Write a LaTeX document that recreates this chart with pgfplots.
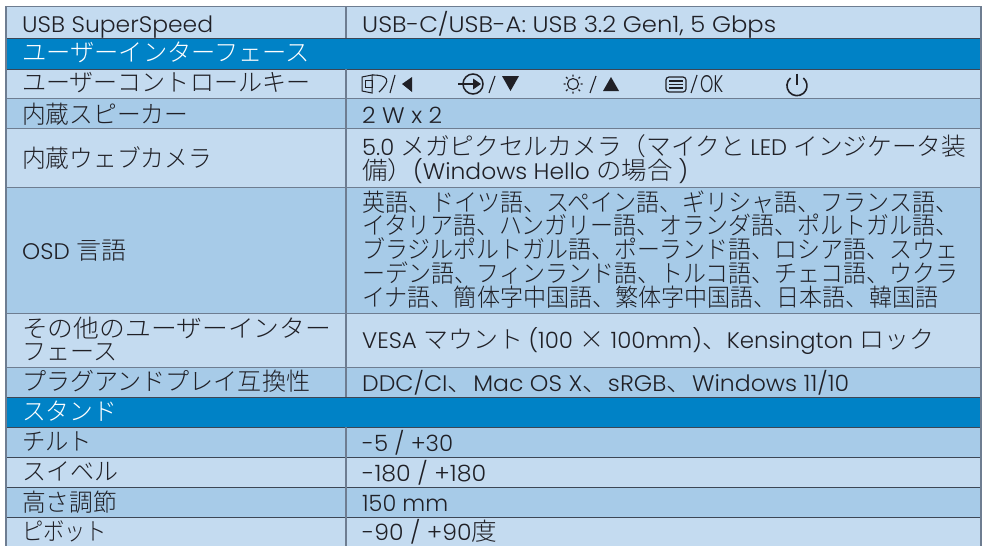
\documentclass[border=0pt]{standalone}
\usepackage{graphicx}
\usepackage{fontspec}
\usepackage{pgfplots}
\pgfplotsset{compat=1.18}
\setmainfont{Poppins Light}
\newfontfamily\jpf{Noto Sans CJK JP Light}
\newfontfamily\ltf{Poppins Light}
\definecolor{lightrow}{RGB}{196,219,240}
\definecolor{darkrow}{RGB}{167,203,232}
\definecolor{headrow}{RGB}{0,130,198}
\definecolor{vline}{RGB}{110,125,145}
\definecolor{hline}{RGB}{60,70,85}
\definecolor{txt}{RGB}{32,32,38}
\newcommand\Ja[1]{{\jpf\fontsize{24.5}{25}\selectfont #1}}
\newcommand\La[1]{{\ltf\fontsize{22.5}{24}\selectfont #1}}
\newsavebox\fitbox
% set text #2 in a box stretched horizontally to #1 pt
\newcommand\F[2]{\sbox\fitbox{#2}\pgfmathsetmacro\fitx{#1/\the\wd\fitbox}\scalebox{\fitx}[1]{\usebox\fitbox}}
\newcommand\T[4]{\node[anchor=base west,inner sep=0pt,text=txt] at (axis cs:#1,#2) {\F{#3}{#4}};}
\newcommand\W[4]{\node[anchor=base west,inner sep=0pt,text=white] at (axis cs:#1,#2) {\F{#3}{#4}};}
\begin{document}
\begin{tikzpicture}[x=1pt,y=1pt]
\path[use as bounding box] (0,0) rectangle (982pt,546pt);
\begin{axis}[at={(0,0)},anchor=south west,width=982pt,height=546pt,scale only axis,
  hide axis,clip=false,xmin=0,xmax=982,ymin=0,ymax=546,y dir=reverse]
% row fills
\addplot[draw=none,fill=lightrow] coordinates {(6,7)(981,7)(981,38)(6,38)};
\addplot[draw=none,fill=headrow] coordinates {(6,38)(981,38)(981,69)(6,69)};
\addplot[draw=none,fill=lightrow] coordinates {(6,69)(981,69)(981,98)(6,98)};
\addplot[draw=none,fill=darkrow] coordinates {(6,98)(981,98)(981,128)(6,128)};
\addplot[draw=none,fill=lightrow] coordinates {(6,128)(981,128)(981,187)(6,187)};
\addplot[draw=none,fill=darkrow] coordinates {(6,187)(981,187)(981,313)(6,313)};
\addplot[draw=none,fill=lightrow] coordinates {(6,313)(981,313)(981,367)(6,367)};
\addplot[draw=none,fill=darkrow] coordinates {(6,367)(981,367)(981,397)(6,397)};
\addplot[draw=none,fill=headrow] coordinates {(6,397)(981,397)(981,427)(6,427)};
\addplot[draw=none,fill=darkrow] coordinates {(6,427)(981,427)(981,457)(6,457)};
\addplot[draw=none,fill=lightrow] coordinates {(6,457)(981,457)(981,487)(6,487)};
\addplot[draw=none,fill=darkrow] coordinates {(6,487)(981,487)(981,517)(6,517)};
\addplot[draw=none,fill=lightrow] coordinates {(6,517)(981,517)(981,546)(6,546)};
% rules
\addplot[vline,line width=1.4pt] coordinates {(6,6.5)(981,6.5)};
\addplot[hline,line width=.9pt] coordinates {(6,38)(981,38)};
\addplot[hline,line width=.9pt] coordinates {(6,69)(981,69)};
\addplot[vline,line width=.9pt] coordinates {(6,98)(981,98)};
\addplot[vline,line width=.9pt] coordinates {(6,128)(981,128)};
\addplot[vline,line width=.9pt] coordinates {(6,187)(981,187)};
\addplot[vline,line width=.9pt] coordinates {(6,313)(981,313)};
\addplot[vline,line width=.9pt] coordinates {(6,367)(981,367)};
\addplot[hline,line width=.9pt] coordinates {(6,397)(981,397)};
\addplot[hline,line width=.9pt] coordinates {(6,427)(981,427)};
\addplot[hline,line width=.9pt] coordinates {(6,457)(981,457)};
\addplot[hline,line width=.9pt] coordinates {(6,487)(981,487)};
\addplot[hline,line width=.9pt] coordinates {(6,517)(981,517)};
\addplot[vline,line width=1.2pt] coordinates {(6,6)(6,546)};
\addplot[vline,line width=1.2pt] coordinates {(981,6)(981,546)};
\addplot[vline,line width=1.2pt] coordinates {(346,6)(346,38)};
\addplot[vline,line width=1.2pt] coordinates {(346,69)(346,397)};
\addplot[vline,line width=1.2pt] coordinates {(346,427)(346,546)};
% left column
\T{22}{32}{191}{\La{USB SuperSpeed}}
\W{22}{61}{288}{\Ja{ユーザーインターフェース}}
\T{22}{91}{288}{\Ja{ユーザーコントロールキー}}
\T{22}{123}{166}{\Ja{内蔵スピーカー}}
\T{22}{167}{190}{\Ja{内蔵ウェブカメラ}}
\T{22}{259}{104}{\La{OSD }\Ja{言語}}
\T{22}{337}{309}{\Ja{その他のユーザーインター}}
\T{22}{360}{95}{\Ja{フェース}}
\T{22}{390}{288}{\Ja{プラグアンドプレイ互換性}}
\W{22}{420}{95}{\Ja{スタンド}}
\T{22}{450}{70}{\Ja{チルト}}
\T{22}{480}{96}{\Ja{スイベル}}
\T{22}{511}{95}{\Ja{高さ調節}}
\T{22}{540}{85}{\Ja{ピボット}}
% right column
\T{362}{32}{414}{\La{USB-C/USB-A: USB 3.2 Gen1, 5 Gbps}}
\T{362}{123}{80}{\La{2 W x 2}}
\T{362}{155}{604}{\La{5.0 }\Ja{メガピクセルカメラ（マイクと }\La{LED }\Ja{インジケータ装}}
\T{362}{179}{326}{\Ja{備）}\La{(Windows Hello }\Ja{の場合 }\La{)}}
\T{362}{211}{596}{\Ja{英語、ドイツ語、スペイン語、ギリシャ語、フランス語、}}
\T{362}{234.5}{596}{\Ja{イタリア語、ハンガリー語、オランダ語、ポルトガル語、}}
\T{362}{258}{596}{\Ja{ブラジルポルトガル語、ポーランド語、ロシア語、スウェ}}
\T{362}{282}{596}{\Ja{ーデン語、フィンランド語、トルコ語、チェコ語、ウクラ}}
\T{362}{306}{576}{\Ja{イナ語、簡体字中国語、繁体字中国語、日本語、韓国語}}
\T{362}{348}{572}{\La{VESA }\Ja{マウント }\La{(100 }\Ja{×}\La{ 100mm)}\Ja{、}\La{Kensington }\Ja{ロック}}
\T{362}{391}{487}{\La{DDC/CI}\Ja{、}\La{Mac OS X}\Ja{、}\La{sRGB}\Ja{、}\La{Windows 11/10}}
\T{362}{451}{91}{\La{-5 / +30}}
\T{362}{481}{124}{\La{-180 / +180}}
\T{362}{511}{86}{\La{150 mm}}
\T{362}{540}{135}{\La{-90 / +90}\Ja{度}}
% key icons
\draw[txt,line width=1pt] (362,77) -- (372,75) -- (372,93) -- (362,91) -- cycle;
\draw[txt,line width=.9pt] (365,80) rectangle (372,87);
\draw[txt,line width=1.1pt] (372,75) .. controls (388,75) and (392,80) .. (379,92);
\draw[txt,line width=1.1pt] (390,93) -- (395,75);
\fill[txt] (402,84) -- (412,77) -- (412,92) -- cycle;
\draw[txt,line width=1.5pt] (473,84) circle[radius=10pt];
\draw[txt,line width=1.5pt] (458,84) -- (478,84);
\fill[txt] (481,84) -- (473,78.5) -- (473,89.5) -- cycle;
\draw[txt,line width=1.1pt] (489,93) -- (495,76);
\fill[txt] (502,76) -- (519,76) -- (510.5,91) -- cycle;
\draw[txt,line width=1.1pt] (573,84) circle[radius=5.5pt];
\draw[txt,line width=1.1pt] (573,74.5) -- (573,76.5) (573,91.5) -- (573,93.5) (563.5,84) -- (565.5,84) (580.5,84) -- (582.5,84) (566,77) -- (567.5,78.5) (578.5,89.5) -- (580,91) (578.5,78.5) -- (580,77) (566,91) -- (567.5,89.5);
\draw[txt,line width=1.1pt] (590,93) -- (596,76);
\fill[txt] (603,91) -- (619,91) -- (611,77) -- cycle;
\draw[txt,line width=1.2pt,rounded corners=3pt] (666,77) rectangle (686,92);
\draw[txt,line width=1.2pt] (669,81) -- (683,81) (669,84.5) -- (683,84.5) (669,88) -- (683,88);
\draw[txt,line width=1.1pt] (691,93) -- (697,75);
\node[anchor=base west,inner sep=0pt,text=txt] at (axis cs:700,92) {\resizebox{23pt}{17pt}{\ltf OK}};
\draw[txt,line width=1.6pt] (790.5,78) arc[start angle=130,end angle=410,radius=10pt];
\draw[txt,line width=1.6pt] (797,73.5) -- (797,85);
\end{axis}
\end{tikzpicture}
\end{document}
